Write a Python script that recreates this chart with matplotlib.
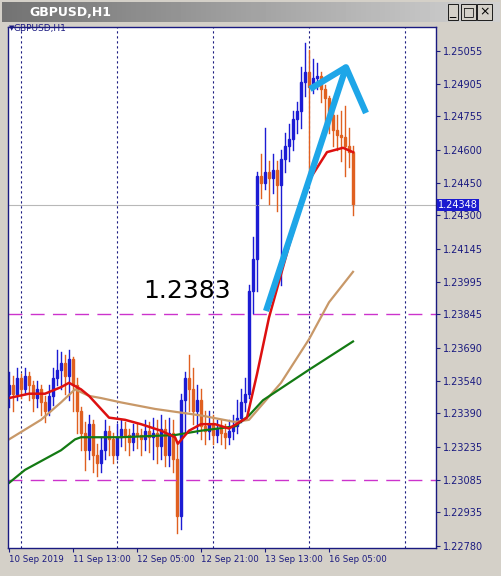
import matplotlib
matplotlib.use("Agg")
import matplotlib.pyplot as plt
import numpy as np
from matplotlib.patches import Rectangle

# GBPUSD H1 candles
closes = [1.2352, 1.2348, 1.2355, 1.2350, 1.2356, 1.2352, 1.2346, 1.2350, 1.2344, 1.2340,
          1.2347, 1.2355, 1.2359, 1.2362, 1.2356, 1.2364, 1.2352, 1.2340, 1.2330, 1.2322,
          1.2334, 1.2320, 1.2316, 1.2322, 1.2331, 1.2327, 1.2320, 1.2328, 1.2332, 1.2329,
          1.2326, 1.2330, 1.2329, 1.2327, 1.2331, 1.2328, 1.2330, 1.2324, 1.2332, 1.2320,
          1.2330, 1.2318, 1.2292, 1.2345, 1.2355, 1.2350, 1.2340, 1.2345, 1.2333, 1.2331,
          1.2334, 1.2329, 1.2332, 1.2330, 1.2328, 1.2331, 1.2333, 1.2337, 1.2344, 1.2348,
          1.2395, 1.2410, 1.2448, 1.2445, 1.2450, 1.2447, 1.2451, 1.2444, 1.2456, 1.2462,
          1.2465, 1.2474, 1.2478, 1.2491, 1.2496, 1.2489, 1.2493, 1.2494, 1.2488, 1.2484,
          1.2476, 1.2469, 1.2467, 1.2466, 1.2462, 1.2459, 1.24348]
first_open = 1.2348
highs = [1.2358, 1.2356, 1.2360, 1.2357, 1.2360, 1.2358, 1.2354, 1.2354, 1.2352, 1.2347,
         1.2352, 1.2360, 1.2368, 1.2367, 1.2366, 1.2368, 1.2365, 1.2355, 1.2342, 1.2335,
         1.2338, 1.2336, 1.2325, 1.2328, 1.2336, 1.2333, 1.2330, 1.2334, 1.2336, 1.2335,
         1.2332, 1.2334, 1.2334, 1.2332, 1.2336, 1.2335, 1.2337, 1.2336, 1.2338, 1.2336,
         1.2337, 1.2336, 1.2326, 1.2348, 1.2358, 1.2366, 1.2360, 1.2352, 1.2350, 1.2340,
         1.2340, 1.2338, 1.2336, 1.2336, 1.2334, 1.2336, 1.2338, 1.2345, 1.2350, 1.2355,
         1.2398, 1.2420, 1.2450, 1.2458, 1.2470, 1.2455, 1.2458, 1.2455, 1.2460, 1.2468,
         1.2472, 1.2478, 1.2482, 1.2498, 1.2509, 1.2506, 1.2502, 1.2500, 1.2496, 1.2490,
         1.2485, 1.2478, 1.2476, 1.2478, 1.2480, 1.2470, 1.2462]
lows = [1.2342, 1.2340, 1.2345, 1.2346, 1.2348, 1.2345, 1.2340, 1.2342, 1.2338, 1.2335,
        1.2338, 1.2343, 1.2352, 1.2350, 1.2348, 1.2345, 1.2340, 1.2330, 1.2322, 1.2313,
        1.2318, 1.2312, 1.2310, 1.2312, 1.2318, 1.2320, 1.2316, 1.2318, 1.2324, 1.2322,
        1.2320, 1.2322, 1.2323, 1.2320, 1.2322, 1.2321, 1.2318, 1.2316, 1.2318, 1.2315,
        1.2315, 1.2312, 1.2284, 1.2286, 1.2330, 1.2340, 1.2334, 1.2330, 1.2327, 1.2325,
        1.2327, 1.2325, 1.2326, 1.2325, 1.2323, 1.2325, 1.2327, 1.2330, 1.2335, 1.2340,
        1.2346, 1.2385, 1.2395, 1.2438, 1.2442, 1.2435, 1.2440, 1.2432, 1.2398, 1.2450,
        1.2455, 1.2460, 1.2468, 1.2470, 1.2485, 1.2450, 1.2486, 1.2488, 1.2482, 1.2472,
        1.2468, 1.2462, 1.2460, 1.2455, 1.2448, 1.2452, 1.2430]

# moving averages, sampled at candle index
red_idx = [0, 5, 9, 13, 15, 18, 20, 23, 25, 29, 33, 38, 41.5, 42.2, 45, 48, 51.5, 55,
           59.5, 62, 65, 70, 75, 79.5, 83.5, 86]
red_val = [1.2346, 1.2348, 1.2348, 1.2351, 1.2353, 1.2350, 1.2347, 1.2341, 1.2337, 1.2336,
           1.2334, 1.2331, 1.2328, 1.2325, 1.2331, 1.2334, 1.2334, 1.2332,
           1.2337, 1.2357, 1.2383, 1.2416, 1.2446, 1.2459, 1.2461, 1.2459]
tan_idx = [0, 8, 13, 16.5, 20, 23, 28, 36.5, 48, 56.5, 60, 68, 75, 80, 86]
tan_val = [1.2327, 1.2336, 1.2344, 1.2350, 1.2347, 1.2346, 1.2344, 1.2341, 1.2338, 1.2335,
           1.2336, 1.2353, 1.2373, 1.2390, 1.2404]
green_idx = [0, 4, 8, 13, 16.5, 18, 28, 41.5, 48, 56.5, 60, 63.5, 75, 86]
green_val = [1.2307, 1.2313, 1.2317, 1.2322, 1.2327, 1.2328, 1.2328, 1.2329, 1.2331, 1.2333,
             1.2338, 1.2345, 1.2359, 1.2372]

price_ticks = [1.25055, 1.24905, 1.24755, 1.24600, 1.24450, 1.24300, 1.24145, 1.23995,
               1.23845, 1.23690, 1.23540, 1.23390, 1.23235, 1.23085, 1.22935, 1.22780]
date_labels = ["10 Sep 2019", "11 Sep 13:00", "12 Sep 05:00", "12 Sep 21:00", "13 Sep 13:00", "16 Sep 05:00"]
date_pos = [0, 16, 32, 48, 64, 80]
day_seps = [3, 27, 51, 75, 99]
hlines = [1.23845, 1.23085]
last_price = 1.24348

navy = "#1a1a80"
W, H = 502, 576
fig = plt.figure(figsize=(W / 100, H / 100), dpi=100)
fig.patch.set_facecolor("#d4d0c8")

# window title bar
bar = fig.add_axes([2 / W, 1 - 22 / H, 498 / W, 20 / H])
bar.imshow(np.linspace(0.45, 0.82, 100).reshape(1, -1), cmap="gray", aspect="auto",
           extent=[0, 1, 0, 1], vmin=0, vmax=1)
bar.axis("off")
bar.text(0.055, 0.5, "GBPUSD,H1", color="white", fontsize=9, fontweight="bold", va="center")
for k, s in enumerate(["_", "□", "×"]):
    bar.text(0.905 + k * 0.032, 0.5, s, fontsize=9, va="center", ha="center",
             bbox=dict(boxstyle="square,pad=0.15", fc="#d4d0c8", ec="black", lw=0.6))

ax = fig.add_axes([8 / W, 28 / H, 428 / W, 521 / H])
ax.set_xlim(-0.25, 106.75)
ax.set_ylim(1.22771, 1.25165)
ax.set_facecolor("white")
for sp in ax.spines.values():
    sp.set_color(navy)
    sp.set_linewidth(1)

for d in day_seps:
    ax.axvline(d, color=navy, ls=(0, (2, 2.5)), lw=0.8)
for h in hlines:
    ax.axhline(h, color="#cc33cc", ls=(0, (10, 6)), lw=1)
ax.axhline(last_price, color="#b8b8b8", lw=0.8)

opens = [first_open] + closes[:-1]
for i, (o, c, hi, lo) in enumerate(zip(opens, closes, highs, lows)):
    col = "#1c1cd4" if c >= o else "#e06020"
    ax.plot([i, i], [lo, hi], color=col, lw=1)
    ax.add_patch(Rectangle((i - 0.35, min(o, c)), 0.7, max(abs(c - o), 0.00003), color=col))

ax.plot(tan_idx, tan_val, color="#c89868", lw=1.6)
ax.plot(green_idx, green_val, color="#137a13", lw=1.6)
ax.plot(red_idx, red_val, color="#dd1010", lw=1.8)

# hand-drawn arrows
blue = "#1ea6e8"
ax.plot([64.25, 84.25, 89.25], [1.2386, 1.2498, 1.2477], color=blue, lw=4.5, solid_capstyle="butt")
ax.plot([75.25, 84.25], [1.2488, 1.2498], color=blue, lw=4.5, solid_capstyle="butt")
ax.text(33.5, 1.2395, "1.2383", fontsize=18, va="center")
ax.text(1.2, 1.2516, "GBPUSD,H1", fontsize=6.5, color=navy, va="center")
ax.text(0.1, 1.2516, "▼", fontsize=5, color=navy, va="center")

ax.set_yticks(price_ticks)
ax.set_yticklabels([f"{p:.5f}" for p in price_ticks])
ax.yaxis.tick_right()
ax.tick_params(axis="y", colors=navy, labelsize=7, length=3, pad=2)
ax.set_xticks(date_pos)
ax.set_xticklabels(date_labels, ha="left")
ax.tick_params(axis="x", colors=navy, labelsize=6.2, length=3, pad=2)
ax.text(1.005, (last_price - 1.22771) / (1.25165 - 1.22771), f"{last_price:.5f}",
        transform=ax.transAxes, fontsize=7, color="white", va="center",
        bbox=dict(boxstyle="square,pad=0.1", fc="#1a1ad0", ec="none"))

fig.savefig("out.png", dpi=100, facecolor=fig.get_facecolor())
